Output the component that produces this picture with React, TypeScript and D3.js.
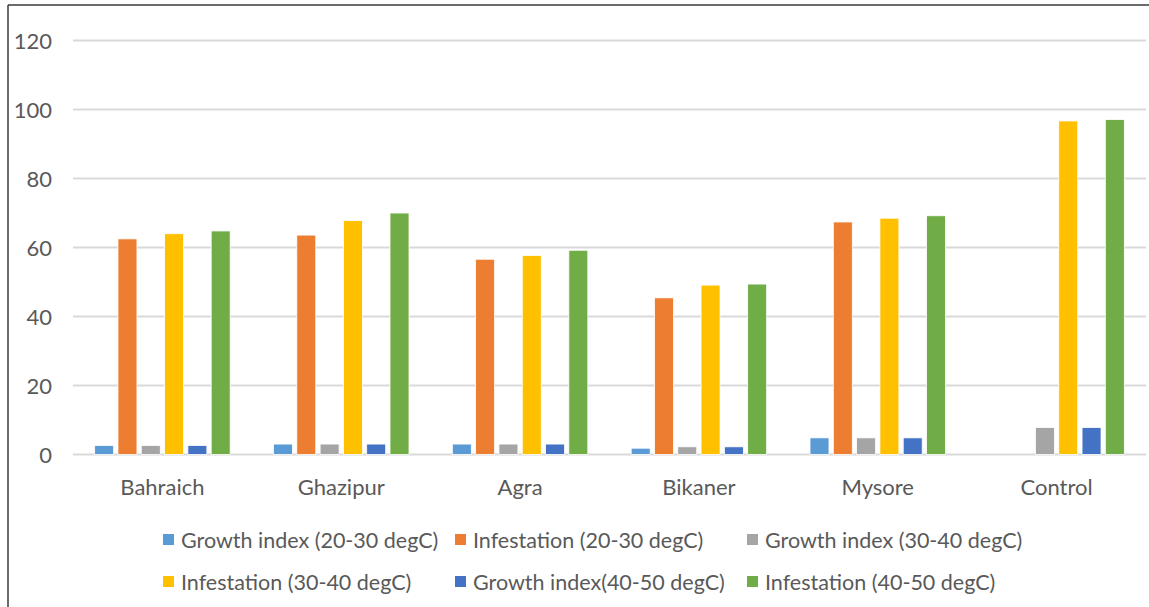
import React from "react";
import * as d3 from "d3";

// Sites and the measured series (one array per series, in site order)
const categories = ["Bahraich", "Ghazipur", "Agra", "Bikaner", "Mysore", "Control"];
const seriesNames = [
  "Growth index (20-30 degC)",
  "Infestation (20-30 degC)",
  "Growth index (30-40 degC)",
  "Infestation (30-40 degC)",
  "Growth index(40-50 degC)",
  "Infestation (40-50 degC)",
];
const growth2030 = [2.6, 3.0, 3.0, 1.8, 4.8, 0];
const infest2030 = [62.5, 63.6, 56.6, 45.4, 67.4, 0];
const growth3040 = [2.6, 3.0, 3.0, 2.2, 4.8, 7.8];
const infest3040 = [64.0, 67.8, 57.7, 49.1, 68.5, 96.7];
const growth4050 = [2.6, 3.0, 3.0, 2.2, 4.8, 7.8];
const infest4050 = [64.8, 70.0, 59.2, 49.4, 69.2, 97.1];
const yTicks = [0, 20, 40, 60, 80, 100, 120];

const seriesValues = [growth2030, infest2030, growth3040, infest3040, growth4050, infest4050];
const colors = ["#5B9BD5", "#ED7D31", "#A5A5A5", "#FFC000", "#4472C4", "#70AD47"];

const W = 1149;
const H = 607;
const FONT = "Lato, 'Noto Sans', sans-serif";
const TEXT = "#595959";

export default function App() {
  const x0 = d3.scaleBand<string>().domain(categories).range([73, 1146]).padding(0);
  const groupW = 135.5;
  const x1 = d3
    .scaleBand<number>()
    .domain(d3.range(seriesNames.length))
    .range([0, groupW])
    .paddingInner(0.185)
    .paddingOuter(0);
  const y = d3.scaleLinear().domain([0, 120]).range([454.4, 40.6]);

  // legend: three columns, two rows
  const legendCol = d3.scaleBand<number>().domain([0, 1, 2]).range([163, 163 + 3 * 292]);
  const legendRow = d3.scalePoint<number>().domain([0, 1]).range([540, 582]);

  return (
    <svg
      width={W}
      height={H}
      style={{ position: "absolute", left: 0, top: 0, background: "#fff" }}
      fontFamily={FONT}
    >
      <rect x={0} y={0} width={W} height={H} fill="#fff" />
      {/* outer frame */}
      <line x1={8} x2={W} y1={5} y2={5} stroke="#3a3a3a" strokeWidth={1.5} />
      <line x1={8} x2={8} y1={5} y2={H} stroke="#3a3a3a" strokeWidth={1.5} />

      {/* gridlines and y tick labels */}
      {yTicks.map((t) => (
        <g key={t}>
          <line x1={73} x2={1146} y1={y(t)} y2={y(t)} stroke="#d9d9d9" strokeWidth={2} />
          <text
            x={52}
            y={y(t)}
            textAnchor="end"
            dominantBaseline="central"
            fontSize={22}
            fill={TEXT}
          >
            {t}
          </text>
        </g>
      ))}

      {/* bars */}
      {categories.map((c, ci) => {
        const cx = (x0(c) as number) + x0.bandwidth() / 2;
        const start = cx - groupW / 2;
        return (
          <g key={c}>
            {seriesValues.map((vals, si) => {
              const v = vals[ci];
              if (!v) return null;
              return (
                <rect
                  key={si}
                  x={start + (x1(si) as number)}
                  y={y(v)}
                  width={x1.bandwidth()}
                  height={y(0) - y(v)}
                  fill={colors[si]}
                  stroke="#fff"
                  strokeWidth={0.8}
                />
              );
            })}
          </g>
        );
      })}

      {/* category labels */}
      {categories.map((c) => (
        <text
          key={c}
          x={(x0(c) as number) + x0.bandwidth() / 2}
          y={486}
          textAnchor="middle"
          dominantBaseline="central"
          fontSize={22}
          fill={TEXT}
        >
          {c}
        </text>
      ))}

      {/* legend */}
      {seriesNames.map((name, i) => {
        const col = i % 3;
        const row = Math.floor(i / 3);
        const lx = legendCol(col) as number;
        const ly = legendRow(row) as number;
        return (
          <g key={name}>
            <rect x={lx} y={ly - 6} width={11} height={11} fill={colors[i]} />
            <text
              x={lx + 18}
              y={ly}
              dominantBaseline="central"
              fontSize={21.5}
              fill={TEXT}
            >
              {name}
            </text>
          </g>
        );
      })}
    </svg>
  );
}
